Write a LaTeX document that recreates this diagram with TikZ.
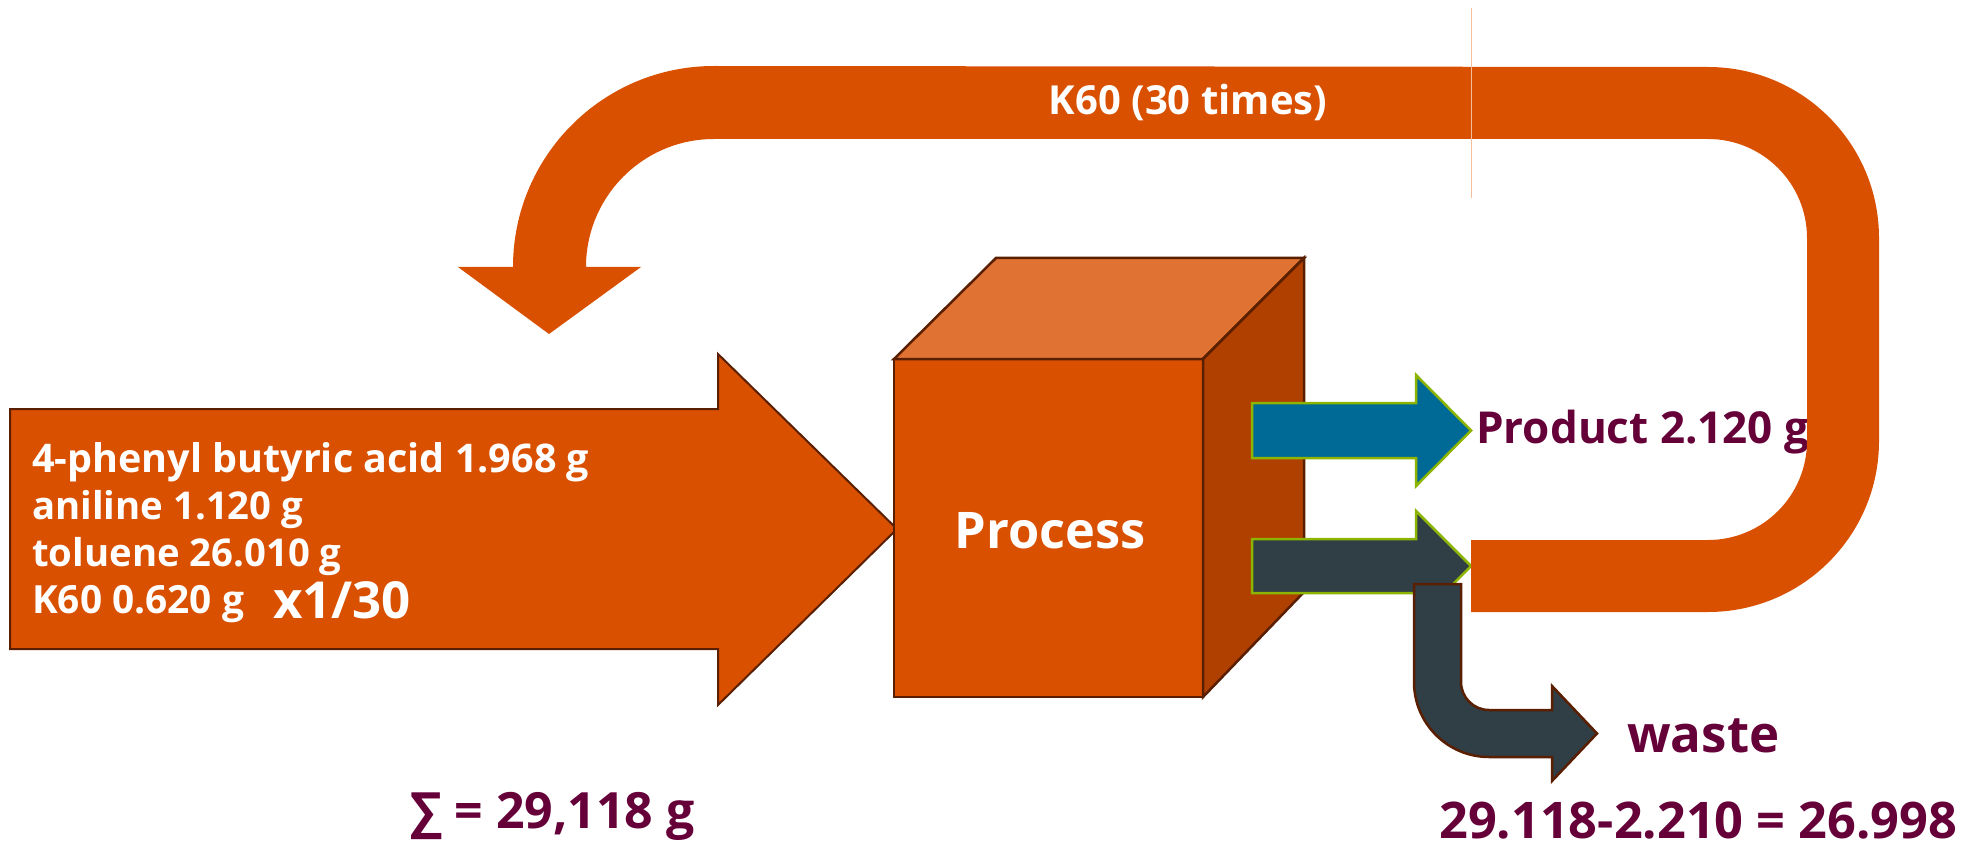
\documentclass[tikz,border=0pt]{standalone}
\usepackage{fontspec}
\setmainfont{Open Sans}
\definecolor{org}{HTML}{D95000}
\definecolor{orgtop}{HTML}{E07333}
\definecolor{orgside}{HTML}{B04000}
\definecolor{brn}{HTML}{5A1E00}
\definecolor{blu}{HTML}{006A96}
\definecolor{slate}{HTML}{303E46}
\definecolor{grn}{HTML}{8CB400}
\definecolor{pur}{HTML}{650038}
\definecolor{seam}{HTML}{F3BE9C}
\tikzset{
  orgshape/.style={fill=org, draw=brn, line width=2pt, line join=miter},
  cubeface/.style={draw=brn, line width=2.5pt, line join=miter},
  flowarrow/.style={draw=grn, line width=2.5pt, line join=miter},
  wtext/.style={text=white, inner sep=0pt, font=\bfseries},
  ptext/.style={text=pur, inner sep=0pt, font=\bfseries},
}
\begin{document}
\begin{tikzpicture}[x=1pt,y=-1pt]
\useasboundingbox (0,0) rectangle (1975,842);
% input arrow
\draw[orgshape] (10,409) -- (718,409) -- (718,354) -- (897,529) -- (718,705) -- (718,649) -- (10,649) -- cycle;
\node[wtext, anchor=base west, font=\bfseries\fontsize{39.5}{46}\selectfont] (l1) at (32,472) {4-phenyl butyric acid 1.968 g};
\node[wtext, anchor=base west, font=\bfseries\fontsize{38.3}{46}\selectfont] (l2) at (32,519) {aniline 1.120 g};
\node[wtext, anchor=base west, font=\bfseries\fontsize{38.3}{46}\selectfont] (l3) at (32,566) {toluene 26.010 g};
\node[wtext, anchor=base west, font=\bfseries\fontsize{38.8}{46}\selectfont] (l4) at (32,613) {K60 0.620 g};
\node[wtext, anchor=base west, font=\bfseries\fontsize{51}{60}\selectfont] (x30) at (273,618) {x1/30};
% cube
\draw[cubeface, fill=org] (894,359) rectangle (1203,697);
\draw[cubeface, fill=orgtop] (894,359) -- (996,258) -- (1304,258) -- (1203,359) -- cycle;
\draw[cubeface, fill=orgside] (1203,359) -- (1304,258) -- (1304,592) -- (1203,697) -- cycle;
\node[wtext, anchor=base, font=\bfseries\fontsize{50.5}{60}\selectfont] (proc) at (1050,548) {Process};
% product arrow
\draw[flowarrow, fill=blu] (1252,403) -- (1416,403) -- (1416,375) -- (1471,430.5) -- (1416,486) -- (1416,458) -- (1252,458) -- cycle;
% residue arrow
\draw[flowarrow, fill=slate] (1252,539) -- (1416,539) -- (1416,511) -- (1471,566) -- (1416,621) -- (1416,593) -- (1252,593) -- cycle;
% waste arrow
\draw[draw=brn, line width=2.5pt, fill=slate, line join=miter] (1414,584) -- (1461,584) -- (1461,682) arc (180:90:28) -- (1552,710) -- (1552,686) -- (1597,733.5) -- (1552,781) -- (1552,757) -- (1489,757) arc (90:180:75) -- cycle;
% labels
\node[ptext, anchor=base west, font=\bfseries\fontsize{44}{52}\selectfont] (prod) at (1476,443) {Product 2.120 g};
\node[ptext, anchor=base west, font=\bfseries\fontsize{51}{60}\selectfont] (waste) at (1627,752) {waste};
\node[ptext, anchor=base west, font=\bfseries\fontsize{50}{60}\selectfont] (sum) at (410,828) {∑ = 29,118 g};
\node[ptext, anchor=base west, font=\bfseries\fontsize{50.5}{60}\selectfont] (diff) at (1439,838) {29.118-2.210 = 26.998};
% recycle loop
\fill[org] (1471,540) -- (1708,540) arc (90:0:99) -- (1807,238) arc (0:-90:99) -- (714,139) arc (-90:-180:128)
  -- (641,267) -- (549,334) -- (458,267) -- (513,267) arc (180:270:201) -- (1708,67) arc (-90:0:171) -- (1879,441) arc (0:90:171) -- (1471,612) -- cycle;
\draw[seam, line width=1pt] (1471,8) -- (1471,198);
\node[wtext, anchor=base, font=\bfseries\fontsize{40}{48}\selectfont] (k60) at (1188,115) {K60 (30 times)};
\end{tikzpicture}
\end{document}
